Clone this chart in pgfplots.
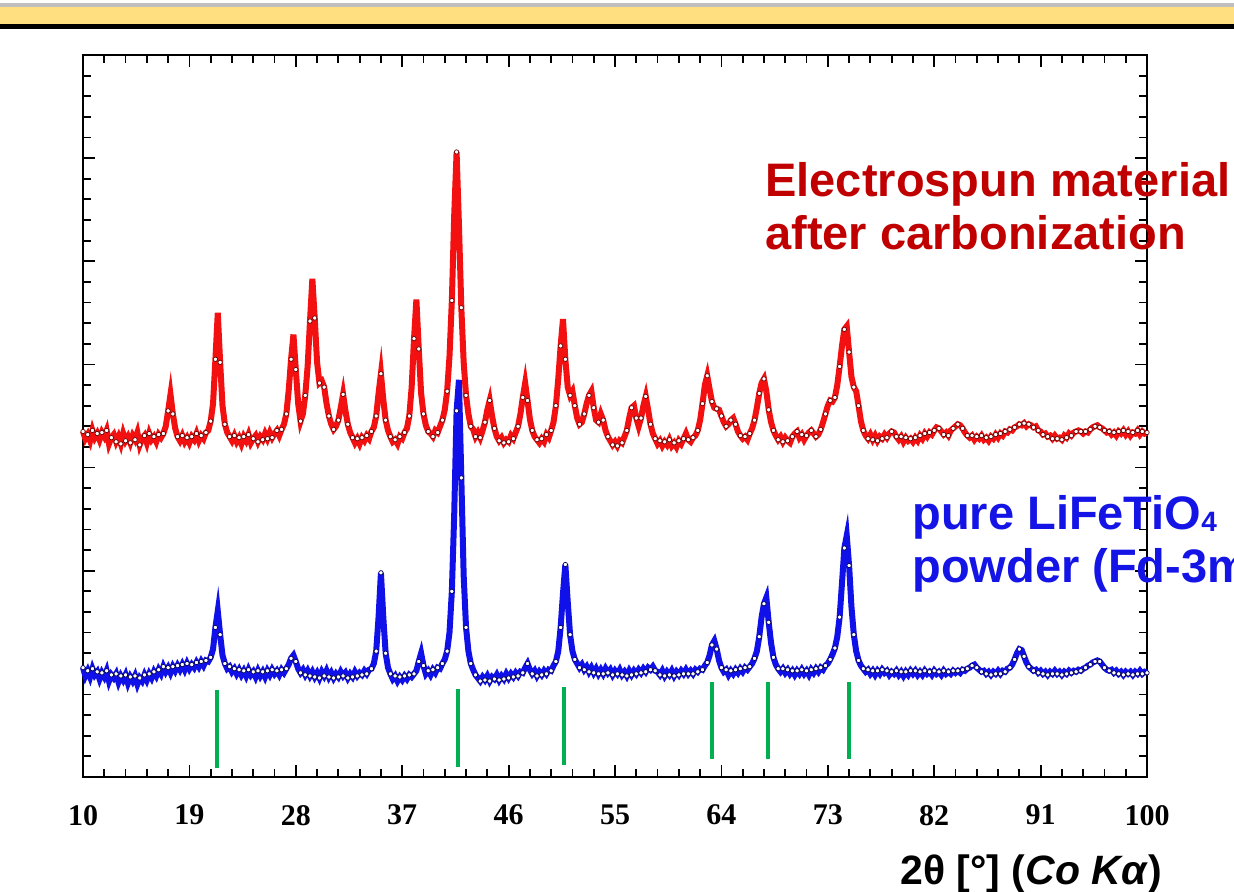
\documentclass[border=0pt]{standalone}
\usepackage{pgfplots}
\usepackage{pgfplotstable}
\pgfplotsset{compat=1.18}
\usepackage{fontspec}
\setmainfont{Liberation Sans}
\newfontfamily\tickfont{Liberation Serif}
\definecolor{hdr}{HTML}{FFDF80}
\definecolor{labred}{HTML}{C00000}
\definecolor{labblue}{HTML}{1414E6}
\definecolor{refgreen}{HTML}{00B050}
\definecolor{serred}{HTML}{F21010}
\definecolor{serblue}{HTML}{1010E8}

% 2theta, electrospun (red), pure powder (blue)
\pgfplotstableread{
x r b
10.0 3.35 1.06
10.2 3.28 0.98
10.4 3.32 1.03
10.6 3.26 0.97
10.8 3.36 1.05
11.0 3.29 0.99
11.2 3.33 1.02
11.4 3.27 0.95
11.6 3.34 1.01
11.8 3.30 0.97
12.0 3.36 1.03
12.2 3.23 0.93
12.4 3.29 0.99
12.6 3.32 0.96
12.8 3.25 1.00
13.0 3.30 0.92
13.2 3.23 0.98
13.4 3.33 0.94
13.6 3.26 0.99
13.8 3.30 0.91
14.0 3.24 0.97
14.2 3.31 0.93
14.4 3.27 0.98
14.6 3.34 0.90
14.8 3.22 0.96
15.0 3.28 0.93
15.2 3.31 0.99
15.4 3.24 0.94
15.6 3.33 1.00
15.8 3.27 0.96
16.0 3.30 1.02
16.2 3.25 0.98
16.4 3.32 1.04
16.6 3.29 1.00
16.8 3.33 1.07
17.0 3.40 1.02
17.2 3.55 1.06
17.4 3.71 1.01
17.6 3.52 1.07
17.8 3.38 1.03
18.0 3.30 1.08
18.2 3.26 1.04
18.4 3.31 1.09
18.6 3.25 1.04
18.8 3.29 1.10
19.0 3.24 1.05
19.2 3.30 1.09
19.4 3.27 1.06
19.6 3.33 1.11
19.8 3.26 1.07
20.0 3.31 1.12
20.2 3.28 1.08
20.4 3.34 1.13
20.6 3.36 1.12
20.8 3.45 1.16
21.0 3.62 1.24
21.2 4.05 1.45
21.4 4.50 1.61
21.6 4.02 1.38
21.8 3.60 1.18
22.0 3.42 1.10
22.2 3.34 1.05
22.4 3.30 1.07
22.6 3.26 1.02
22.8 3.31 1.05
23.0 3.25 1.00
23.2 3.29 1.04
23.4 3.23 0.99
23.6 3.30 1.03
23.8 3.26 0.98
24.0 3.32 1.04
24.2 3.24 0.99
24.4 3.28 1.02
24.6 3.31 0.97
24.8 3.25 1.03
25.0 3.30 0.98
25.2 3.27 1.02
25.4 3.33 0.97
25.6 3.28 1.03
25.8 3.34 0.99
26.0 3.29 1.04
26.2 3.33 1.00
26.4 3.36 1.03
26.6 3.31 0.99
26.8 3.37 1.04
27.0 3.42 1.01
27.2 3.52 1.05
27.4 3.75 1.09
27.6 4.05 1.15
27.8 4.29 1.18
28.0 3.95 1.12
28.2 3.62 1.05
28.4 3.45 1.01
28.6 3.52 1.04
28.8 3.70 0.99
29.0 3.98 1.03
29.2 4.42 0.98
29.4 4.83 1.02
29.6 4.45 0.97
29.8 4.02 1.01
30.0 3.82 0.96
30.2 3.84 1.02
30.4 3.78 0.98
30.6 3.62 1.03
30.8 3.50 0.97
31.0 3.42 1.01
31.2 3.37 0.96
31.4 3.40 1.00
31.6 3.46 0.97
31.8 3.58 1.02
32.0 3.71 0.98
32.2 3.55 1.01
32.4 3.42 0.96
32.6 3.34 1.00
32.8 3.29 0.97
33.0 3.24 1.02
33.2 3.28 0.98
33.4 3.23 1.01
33.6 3.29 0.99
33.8 3.26 1.03
34.0 3.31 1.00
34.2 3.28 1.04
34.4 3.35 1.05
34.6 3.39 1.10
34.8 3.50 1.22
35.0 3.72 1.55
35.2 3.91 1.98
35.4 3.66 1.55
35.6 3.46 1.20
35.8 3.36 1.06
36.0 3.30 1.00
36.2 3.25 0.95
36.4 3.27 0.98
36.6 3.23 0.93
36.8 3.30 0.97
37.0 3.28 0.94
37.2 3.34 0.98
37.4 3.38 0.95
37.6 3.50 0.99
37.8 3.78 0.97
38.0 4.25 1.00
38.2 4.63 1.03
38.4 4.15 1.12
38.6 3.72 1.20
38.8 3.52 1.08
39.0 3.41 1.00
39.2 3.35 1.03
39.4 3.33 0.99
39.6 3.30 1.04
39.8 3.36 1.01
40.0 3.34 1.06
40.2 3.40 1.05
40.4 3.46 1.10
40.6 3.56 1.14
40.8 3.74 1.22
41.0 4.08 1.40
41.2 4.62 1.80
41.4 5.45 2.55
41.6 6.06 3.55
41.8 5.35 3.85
42.0 4.55 2.90
42.2 4.02 1.95
42.4 3.70 1.45
42.6 3.52 1.22
42.8 3.40 1.10
43.0 3.37 1.04
43.2 3.30 0.99
43.4 3.34 0.96
43.6 3.29 0.93
43.8 3.36 0.97
44.0 3.44 0.94
44.2 3.56 0.98
44.4 3.65 0.93
44.6 3.50 0.97
44.8 3.38 0.95
45.0 3.30 0.99
45.2 3.26 0.94
45.4 3.29 0.98
45.6 3.24 0.95
45.8 3.27 1.00
46.0 3.25 0.96
46.2 3.31 1.00
46.4 3.28 0.97
46.6 3.34 1.01
46.8 3.40 0.98
47.0 3.52 1.02
47.2 3.68 1.01
47.4 3.82 1.06
47.6 3.65 1.10
47.8 3.47 1.04
48.0 3.36 1.00
48.2 3.30 1.03
48.4 3.27 0.98
48.6 3.24 1.02
48.8 3.28 0.99
49.0 3.25 1.03
49.2 3.32 1.00
49.4 3.29 1.04
49.6 3.36 1.03
49.8 3.44 1.08
50.0 3.60 1.12
50.2 3.86 1.22
50.4 4.18 1.45
50.6 4.44 1.78
50.8 4.05 2.06
51.0 3.78 1.70
51.2 3.70 1.38
51.4 3.74 1.22
51.6 3.60 1.14
51.8 3.48 1.10
52.0 3.42 1.06
52.2 3.44 1.09
52.4 3.52 1.04
52.6 3.62 1.07
52.8 3.70 1.02
53.0 3.74 1.06
53.2 3.58 1.01
53.4 3.46 1.05
53.6 3.44 1.00
53.8 3.52 1.04
54.0 3.46 1.00
54.2 3.36 1.05
54.4 3.30 1.01
54.6 3.26 1.04
54.8 3.22 0.99
55.0 3.25 1.03
55.2 3.21 1.00
55.4 3.26 1.04
55.6 3.24 0.99
55.8 3.30 1.02
56.0 3.36 0.98
56.2 3.48 1.03
56.4 3.58 0.99
56.6 3.60 1.03
56.8 3.48 1.00
57.0 3.40 1.04
57.2 3.48 1.01
57.4 3.60 1.05
57.6 3.69 1.02
57.8 3.56 1.06
58.0 3.42 1.04
58.2 3.33 1.07
58.4 3.28 1.03
58.6 3.23 1.02
58.8 3.26 0.99
59.0 3.21 1.03
59.2 3.25 0.98
59.4 3.22 1.02
59.6 3.27 0.99
59.8 3.21 1.03
60.0 3.24 0.98
60.2 3.20 1.02
60.4 3.26 0.99
60.6 3.23 1.03
60.8 3.28 1.00
61.0 3.33 1.04
61.2 3.27 1.00
61.4 3.25 1.03
61.6 3.29 1.00
61.8 3.31 1.04
62.0 3.36 1.02
62.2 3.46 1.05
62.4 3.62 1.04
62.6 3.80 1.08
62.8 3.89 1.11
63.0 3.76 1.18
63.2 3.64 1.28
63.4 3.58 1.32
63.6 3.57 1.24
63.8 3.56 1.13
64.0 3.50 1.06
64.2 3.44 1.02
64.4 3.40 1.04
64.6 3.42 0.99
64.8 3.46 1.03
65.0 3.48 1.00
65.2 3.42 1.04
65.4 3.35 1.01
65.6 3.31 1.05
65.8 3.28 1.02
66.0 3.30 1.06
66.2 3.27 1.04
66.4 3.33 1.07
66.6 3.38 1.10
66.8 3.46 1.15
67.0 3.58 1.22
67.2 3.72 1.36
67.4 3.82 1.55
67.6 3.86 1.68
67.8 3.74 1.74
68.0 3.56 1.50
68.2 3.44 1.30
68.4 3.36 1.16
68.6 3.31 1.09
68.8 3.27 1.05
69.0 3.30 1.02
69.2 3.25 1.05
69.4 3.29 1.01
69.6 3.26 1.04
69.8 3.24 1.00
70.0 3.30 1.03
70.2 3.33 0.99
70.4 3.35 1.03
70.6 3.29 1.00
70.8 3.32 1.04
71.0 3.27 1.00
71.2 3.31 1.03
71.4 3.34 0.99
71.6 3.36 1.04
71.8 3.33 1.01
72.0 3.30 1.05
72.2 3.32 1.02
72.4 3.37 1.06
72.6 3.44 1.04
72.8 3.52 1.08
73.0 3.60 1.10
73.2 3.65 1.14
73.4 3.64 1.19
73.6 3.68 1.25
73.8 3.80 1.36
74.0 3.98 1.55
74.2 4.18 1.88
74.4 4.34 2.22
74.6 4.37 2.34
74.8 4.12 2.05
75.0 3.88 1.65
75.2 3.78 1.38
75.4 3.74 1.22
75.6 3.60 1.13
75.8 3.45 1.08
76.0 3.36 1.05
76.2 3.31 1.02
76.4 3.28 1.04
76.6 3.32 1.00
76.8 3.27 1.03
77.0 3.31 0.99
77.2 3.26 1.03
77.4 3.30 1.00
77.6 3.28 1.04
77.8 3.32 1.01
78.0 3.29 1.03
78.2 3.33 0.99
78.4 3.35 1.02
78.6 3.34 1.00
78.8 3.30 1.03
79.0 3.27 0.99
79.2 3.30 1.02
79.4 3.25 0.98
79.6 3.29 1.02
79.8 3.26 0.99
80.0 3.28 1.03
80.2 3.25 1.00
80.4 3.29 1.03
80.6 3.26 0.99
80.8 3.31 1.02
81.0 3.28 0.99
81.2 3.33 1.03
81.4 3.30 1.00
81.6 3.34 1.02
81.8 3.32 0.99
82.0 3.36 1.03
82.2 3.39 1.00
82.4 3.38 1.02
82.6 3.35 0.99
82.8 3.32 1.03
83.0 3.34 1.00
83.2 3.31 1.02
83.4 3.36 1.00
83.6 3.38 1.03
83.8 3.40 1.01
84.0 3.42 1.03
84.2 3.41 1.01
84.4 3.38 1.04
84.6 3.34 1.03
84.8 3.31 1.05
85.0 3.29 1.06
85.2 3.31 1.08
85.4 3.27 1.09
85.6 3.30 1.06
85.8 3.28 1.04
86.0 3.31 1.02
86.2 3.27 1.03
86.4 3.29 1.00
86.6 3.26 1.02
86.8 3.30 0.99
87.0 3.28 1.02
87.2 3.32 1.00
87.4 3.29 1.03
87.6 3.33 1.00
87.8 3.31 1.03
88.0 3.35 1.02
88.2 3.34 1.05
88.4 3.37 1.06
88.6 3.36 1.09
88.8 3.39 1.14
89.0 3.40 1.20
89.2 3.42 1.24
89.4 3.41 1.23
89.6 3.43 1.17
89.8 3.40 1.11
90.0 3.42 1.07
90.2 3.41 1.05
90.4 3.39 1.03
90.6 3.40 1.04
90.8 3.36 1.01
91.0 3.35 1.03
91.2 3.32 1.00
91.4 3.33 1.02
91.6 3.30 0.99
91.8 3.31 1.02
92.0 3.28 1.00
92.2 3.31 1.03
92.4 3.28 1.00
92.6 3.29 1.02
92.8 3.27 0.99
93.0 3.31 1.02
93.2 3.29 1.00
93.4 3.33 1.03
93.6 3.31 1.01
93.8 3.34 1.03
94.0 3.35 1.02
94.2 3.36 1.04
94.4 3.35 1.03
94.6 3.33 1.05
94.8 3.35 1.06
95.0 3.34 1.08
95.2 3.37 1.09
95.4 3.39 1.11
95.6 3.40 1.12
95.8 3.41 1.13
96.0 3.39 1.12
96.2 3.38 1.09
96.4 3.36 1.06
96.6 3.34 1.04
96.8 3.35 1.03
97.0 3.32 1.04
97.2 3.34 1.01
97.4 3.31 1.03
97.6 3.35 1.00
97.8 3.33 1.02
98.0 3.36 0.99
98.2 3.32 1.02
98.4 3.35 1.00
98.6 3.31 1.02
98.8 3.34 0.99
99.0 3.33 1.02
99.2 3.36 1.00
99.4 3.32 1.03
99.6 3.35 1.00
99.8 3.33 1.02
100.0 3.34 1.01
}\xrd

\begin{document}
\begin{tikzpicture}[x=0.5pt,y=0.5pt]
\useasboundingbox (0,0) rectangle (1234,892);
\clip (0,0) rectangle (1234,892);
% slide header bar
\fill[black!25] (0,885) rectangle (1234,889);
\fill[hdr] (0,868) rectangle (1234,885);
\fill[black] (0,863) rectangle (1234,868);

\begin{axis}[
  at={(41.5pt,57.5pt)}, anchor=south west,
  scale only axis,
  width=532pt, height=361pt,
  xmin=10, xmax=100,
  ymin=0, ymax=7,
  xtick={10,19,...,100},
  minor x tick num=4,
  ytick={0,1,...,7},
  minor y tick num=4,
  yticklabels={},
  tick pos=both,
  tick align=inside,
  xticklabel pos=bottom,
  major tick length=6pt,
  minor tick length=4pt,
  every tick/.style={black, line width=0.9pt},
  axis line style={line width=1.4pt},
  /pgf/number format/assume math mode=true,
  xticklabel style={font=\tickfont\bfseries\fontsize{15}{15}\selectfont, yshift=-10.5pt},
  clip=false,
]
% blue first, red drawn over it where the 41.7 peaks meet
\addplot[color=serblue, line width=3pt, mark=*, mark repeat=2, mark size=1.1pt,
  mark options={fill=white, draw=blue!35!black, line width=0.35pt}]
  table[x=x, y=b] {\xrd};
\addplot[color=serred, line width=3pt, mark=*, mark repeat=2, mark size=1.1pt,
  mark options={fill=white, draw=red!40!black, line width=0.35pt}]
  table[x=x, y=r] {\xrd};

% reference reflections (Fd-3m)
\addplot[refgreen, line width=2pt] coordinates {(21.35,0.09) (21.35,0.84)};
\addplot[refgreen, line width=2pt] coordinates {(41.75,0.10) (41.75,0.85)};
\addplot[refgreen, line width=2pt] coordinates {(50.70,0.12) (50.70,0.87)};
\addplot[refgreen, line width=2pt] coordinates {(63.20,0.17) (63.20,0.92)};
\addplot[refgreen, line width=2pt] coordinates {(67.95,0.17) (67.95,0.92)};
\addplot[refgreen, line width=2pt] coordinates {(74.80,0.17) (74.80,0.92)};
\end{axis}

\node[anchor=base west, inner sep=0, text=labred, font=\bfseries\fontsize{23.5}{26}\selectfont] at (765,695) {Electrospun material};
\node[anchor=base west, inner sep=0, text=labred, font=\bfseries\fontsize{23.5}{26}\selectfont] at (765,642) {after carbonization};
\node[anchor=base west, inner sep=0, text=labblue, font=\bfseries\fontsize{23.5}{26}\selectfont] at (912,362) {pure LiFeTiO\raisebox{-1pt}{\fontsize{14}{14}\selectfont 4}};
\node[anchor=base west, inner sep=0, text=labblue, font=\bfseries\fontsize{23.5}{26}\selectfont] at (912,309) {powder (Fd-3m)};
\node[anchor=base west, inner sep=0, font=\bfseries\fontsize{20.5}{22}\selectfont] at (900,7) {2θ [°] (\textit{Co Kα})};
\end{tikzpicture}
\end{document}
